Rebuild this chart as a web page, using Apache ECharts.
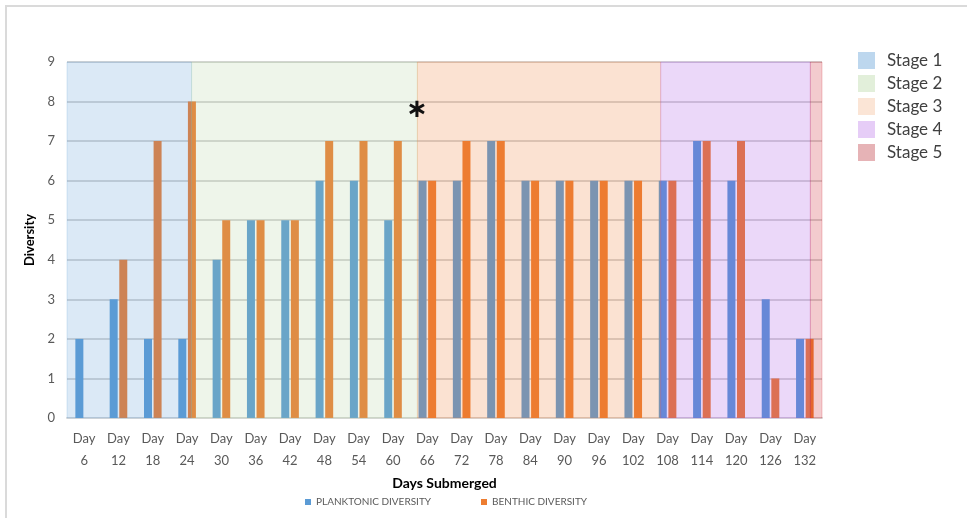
<!DOCTYPE html>
<html>
<head>
<meta charset="utf-8">
<script src="https://cdn.jsdelivr.net/npm/echarts@6/dist/echarts.min.js"></script>
<style>
  html, body { margin: 0; padding: 0; background: #fff; }
  #frame {
    position: absolute; left: 5px; top: 5px; width: 980px; height: 530px;
    border-left: 2px solid #dadada; border-top: 2px solid #dadada;
  }
  #chart { position: absolute; left: 0; top: 0; width: 967px; height: 518px; }
</style>
</head>
<body>
<div id="frame"></div>
<div id="chart"></div>
<script>
const days = [6, 12, 18, 24, 30, 36, 42, 48, 54, 60, 66, 72, 78, 84, 90, 96, 102, 108, 114, 120, 126, 132]
const planktonic = [2, 3, 2, 2, 4, 5, 5, 6, 6, 5, 6, 6, 7, 6, 6, 6, 6, 6, 7, 6, 3, 2]
const benthic = [0, 4, 7, 8, 5, 5, 5, 7, 7, 7, 6, 7, 7, 6, 6, 6, 6, 6, 7, 7, 1, 2]

// stage limits, in category units along the axis
const stageNames = ['Stage 1', 'Stage 2', 'Stage 3', 'Stage 4', 'Stage 5']
const stageStart = [0, 3.63, 10.21, 17.3, 21.66]
const stageEnd = [3.63, 10.21, 17.3, 21.66, 22]
const stageLegendColors = ['#bdd7ee', '#e2efda', '#fbe5d6', '#e6cdf7', '#e6b3b6']
const stageOverlay = [
  'rgba(91,155,213,0.22)',
  'rgba(170,205,150,0.2)',
  'rgba(237,125,49,0.22)',
  'rgba(156,60,225,0.2)',
  'rgba(200,20,30,0.22)'
]
const noteMark = [10.2, 7.79]

const chart = echarts.init(document.getElementById('chart'))
const font = 'Lato, "Open Sans", sans-serif'

const stageSeries = stageNames.map((name, i) => ({
  name: name,
  type: 'line',
  xAxisIndex: 1,
  data: [],
  z: 5,
  color: stageLegendColors[i],
  silent: true,
  markArea: {
    silent: true,
    z: 10,
    itemStyle: { color: stageOverlay[i], borderColor: stageOverlay[i], borderWidth: 1 },
    data: [[{ xAxis: stageStart[i] }, { xAxis: stageEnd[i] }]]
  },
  markPoint: i === 2 ? {
    symbol: 'circle',
    symbolSize: 0,
    z: 11,
    label: {
      show: true,
      formatter: '∗',
      fontSize: 26,
      fontWeight: 'bold',
      color: '#111',
      fontFamily: 'DejaVu Sans',
      position: 'inside'
    },
    data: [{ coord: noteMark }]
  } : undefined
}))

const option = {
  animation: false,
  textStyle: { fontFamily: font },
  grid: { left: 67, right: 145, top: 62, bottom: 100 },
  legend: [
    {
      data: stageNames,
      orient: 'vertical',
      left: 853,
      top: 47,
      icon: 'rect',
      itemWidth: 17,
      itemHeight: 17,
      itemGap: 6,
      textStyle: { fontSize: 17, color: '#404040', fontFamily: font, padding: [0, 0, 0, 7] }
    },
    {
      data: ['PLANKTONIC DIVERSITY'],
      left: 300,
      top: 492,
      icon: 'rect',
      itemWidth: 6,
      itemHeight: 6,
      textStyle: { fontSize: 10, color: '#595959', fontFamily: font }
    },
    {
      data: ['BENTHIC DIVERSITY'],
      left: 476,
      top: 492,
      icon: 'rect',
      itemWidth: 6,
      itemHeight: 6,
      textStyle: { fontSize: 10, color: '#595959', fontFamily: font }
    }
  ],
  xAxis: [
    {
      type: 'category',
      data: days.map(d => 'Day\n' + d),
      name: 'Days Submerged',
      nameLocation: 'middle',
      nameGap: 57,
      nameTextStyle: { fontSize: 14, fontWeight: 'bold', color: '#000', fontFamily: font },
      axisTick: { show: false },
      axisLine: { lineStyle: { color: '#d9d9d9', width: 2 } },
      axisLabel: { interval: 0, fontSize: 13, color: '#595959', lineHeight: 22, margin: 10, fontFamily: font }
    },
    {
      type: 'value',
      min: 0,
      max: 22,
      show: false
    }
  ],
  yAxis: {
    type: 'value',
    min: 0,
    max: 9,
    interval: 1,
    name: 'Diversity',
    nameLocation: 'middle',
    nameGap: 28,
    nameTextStyle: { fontSize: 13, fontWeight: 'bold', color: '#000', fontFamily: font },
    axisLine: { show: false },
    axisTick: { show: false },
    axisLabel: { fontSize: 13, color: '#595959', margin: 12, fontFamily: font },
    splitLine: { lineStyle: { color: '#c9c9c9', width: 1.5 } }
  },
  series: [
    {
      name: 'PLANKTONIC DIVERSITY',
      type: 'bar',
      data: planktonic,
      barWidth: 8,
      barGap: '20%',
      color: '#5b9bd5',
      z: 2
    },
    {
      name: 'BENTHIC DIVERSITY',
      type: 'bar',
      data: benthic,
      barWidth: 8,
      color: '#ed7d31',
      z: 2
    },
    ...stageSeries
  ]
}

chart.setOption(option)
</script>
</body>
</html>
